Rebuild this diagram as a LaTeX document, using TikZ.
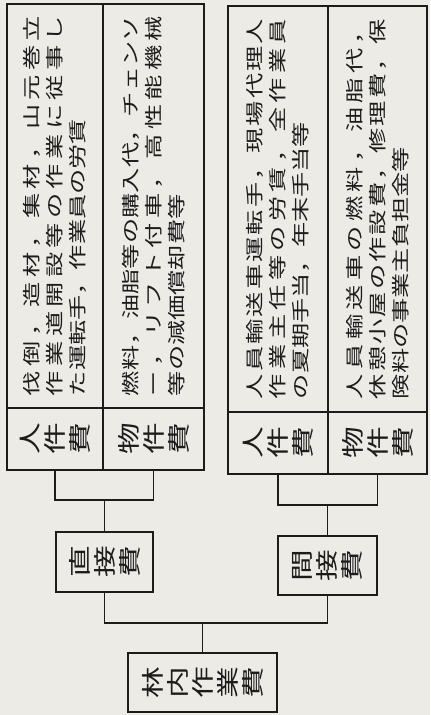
\documentclass[tikz,border=0pt]{standalone}
\usepackage{fontspec}
\usepackage{graphicx}
\newfontfamily\jp[FakeStretch=1.4]{Noto Sans CJK JP}
\definecolor{paper}{RGB}{236,235,229}
\definecolor{ink}{RGB}{28,28,28}
\newdimen\jw \jw=285pt
\makeatletter
\newcommand\jfull[1]{\hbox to \jw{\def\jl@sep{}\@tfor\jl@c:=#1\do{\jl@sep\jl@c\def\jl@sep{\hfil}}}}
\newcommand\jlast[1]{\hbox to \jw{#1\hfil}}
\newcommand\desc[3]{\rotatebox{90}{\vbox{\jp\fontsize{13.5}{17.25}\selectfont\jfull{#1}\jfull{#2}\jlast{#3}}}}
\newcommand\vlab[1]{\rotatebox{90}{\vbox{\jp\fontsize{17}{18.75}\selectfont\@tfor\jl@c:=#1\do{\hbox{\jl@c}}}}}
\makeatother
\begin{document}
\begin{tikzpicture}[x=0.75pt,y=-0.75pt,
  cell/.style={draw=ink,line width=1.3pt,inner sep=0pt,text=ink,anchor=center},
  wire/.style={draw=ink,line width=1.3pt}]
\fill[paper] (0,0) rectangle (430,715);
\useasboundingbox (0,0) rectangle (430,715);
% direct cost group
\node[cell,minimum width=72pt,minimum height=303pt] (d1) at (55,206)
  {\desc{伐倒，造材，集材，山元巻立}{作業道開設等の作業に従事し}{た運転手，作業員の労賃}};
\node[cell,minimum width=75.75pt,minimum height=303pt] (d2) at (153.5,206)
  {\desc{燃料，油脂等の購入代，チェンソ}{ー，リフト付車，高性能機械}{等の減価償却費等}};
\node[cell,minimum width=72pt,minimum height=46.5pt] (l1) at (55,439) {\vlab{人件費}};
\node[cell,minimum width=75.75pt,minimum height=46.5pt] (l2) at (153.5,439) {\vlab{物件費}};
% indirect cost group
\node[cell,minimum width=75pt,minimum height=304.5pt] (d3) at (278,209)
  {\desc{人員輸送車運転手，現場代理人}{作業主任等の労賃，全作業員}{の夏期手当，年末手当等}};
\node[cell,minimum width=74.25pt,minimum height=304.5pt] (d4) at (377.5,209)
  {\desc{人員輸送車の燃料，油脂代，}{休憩小屋の作設費，修理費，保}{険料の事業主負担金等}};
\node[cell,minimum width=75pt,minimum height=46.5pt] (l3) at (278,443) {\vlab{人件費}};
\node[cell,minimum width=74.25pt,minimum height=46.5pt] (l4) at (377.5,443) {\vlab{物件費}};
% middle and root
\node[cell,minimum width=72.75pt,minimum height=45pt] (direct) at (104.5,562) {\vlab{直接費}};
\node[cell,minimum width=74.25pt,minimum height=44.25pt] (indirect) at (327.5,565.5) {\vlab{間接費}};
\node[cell,minimum width=111.75pt,minimum height=44.25pt] (root) at (202.5,682.5) {\vlab{林内作業費}};
% connectors
\coordinate (j1) at (104.5,500);
\coordinate (j2) at (327.5,505);
\coordinate (j3) at (202.5,623);
\draw[wire] (l1.south) |- (j1) -| (l2.south);
\draw[wire] (j1) -- (direct.north);
\draw[wire] (l3.south) |- (j2) -| (l4.south);
\draw[wire] (j2) -- (indirect.north);
\draw[wire] (direct.south) |- (j3) -| (indirect.south);
\draw[wire] (j3) -- (root.north);
\end{tikzpicture}
\end{document}
